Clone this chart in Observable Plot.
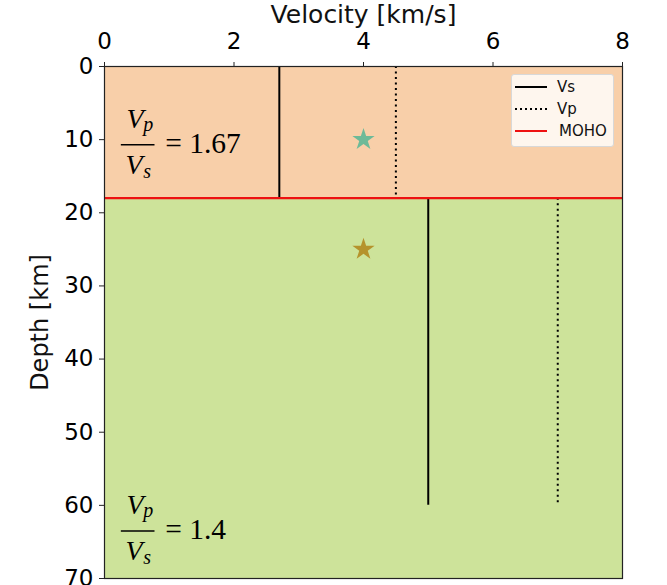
<!DOCTYPE html>
<html>
<head>
<meta charset="utf-8">
<script src="https://cdn.jsdelivr.net/npm/d3@7"></script>
<script src="https://cdn.jsdelivr.net/npm/@observablehq/plot@0.6"></script>
<style>
  html, body { margin: 0; padding: 0; background: #fff; }
  #wrap { position: relative; width: 667px; height: 585px; overflow: hidden; }
  #legend {
    position: absolute; left: 511px; top: 74px; width: 103px; height: 73px;
    background: rgba(255,255,255,0.8); border: 1px solid #d8d8d8; border-radius: 3px;
    font-family: "DejaVu Sans", sans-serif; font-size: 15px; color: #111; box-sizing: border-box;
  }
  #legend .row { position: absolute; left: 3px; height: 20px; display: flex; align-items: center; }
  #legend svg { margin-right: 10px; }
</style>
</head>
<body>
<div id="wrap"></div>
<script>
// Layers (depth ranges, km)
const layerNames = ["crust", "mantle"];
const layerTop = [0, 18];
const layerBottom = [18, 70];
const layerColors = ["#f8cfa9", "#cde39a"];

// Velocity profiles (km/s) per layer
const vsValues = [2.7, 5.0];
const vpValues = [4.5, 7.0];
const profileTop = [0, 18];
const profileBottom = [18, 60];

// Moho depth
const mohoDepth = [18];

// Stars (events)
const starX = [4, 4];
const starY = [10, 25];
const starColors = ["#6dba98", "#b5932c"];

// Vp/Vs annotations
const ratioLabels = ["1.67", "1.4"];
const ratioX = [0.52, 0.52];
const ratioY = [10.7, 63.5];

// Axis ticks
const xTicks = [0, 2, 4, 6, 8];
const yTicks = [0, 10, 20, 30, 40, 50, 60, 70];

const layers = layerNames.map((n, i) => ({n, y1: layerTop[i], y2: layerBottom[i], c: layerColors[i]}));
const profiles = vsValues.map((v, i) => ({vs: v, vp: vpValues[i], y1: profileTop[i], y2: profileBottom[i]}));
const stars = starX.map((x, i) => ({x, y: starY[i], c: starColors[i]}));
const ratios = ratioLabels.map((t, i) => ({t, x: ratioX[i], y: ratioY[i]}));

const serif = "'Liberation Serif', 'DejaVu Serif', serif";
const sans = "'DejaVu Sans', sans-serif";

const chart = Plot.plot({
  width: 667,
  height: 585,
  marginLeft: 104,
  marginRight: 45,
  marginTop: 66,
  marginBottom: 7,
  style: {fontFamily: sans, background: "white", overflow: "hidden"},
  x: {domain: [0, 8]},
  y: {domain: [0, 70], reverse: true},
  marks: [
    Plot.rect(layers, {x1: 0, x2: 8, y1: "y1", y2: "y2", fill: d => d.c}),
    Plot.ruleX(profiles, {x: "vs", y1: "y1", y2: "y2", stroke: "black", strokeWidth: 2}),
    Plot.ruleX(profiles, {x: "vp", y1: "y1", y2: "y2", stroke: "black", strokeWidth: 2, strokeDasharray: "2,3.5"}),
    Plot.ruleY(mohoDepth, {stroke: "#ee1111", strokeWidth: 2.2}),
    Plot.dot(stars, {x: "x", y: "y", symbol: "star", r: 7, fill: d => d.c, stroke: "none"}),
    // Vp/Vs fractions
    Plot.ruleY(ratios, {y: "y", x1: d => d.x - 0.26, x2: d => d.x + 0.26, stroke: "black", strokeWidth: 1.4}),
    Plot.text(ratios, {x: "x", y: "y", text: d => "V", dx: -3, dy: -26, fontFamily: serif, fontStyle: "italic", fontSize: 28}),
    Plot.text(ratios, {x: "x", y: "y", text: d => "p", dx: 10, dy: -20, fontFamily: serif, fontStyle: "italic", fontSize: 20}),
    Plot.text(ratios, {x: "x", y: "y", text: d => "V", dx: -4, dy: 20, fontFamily: serif, fontStyle: "italic", fontSize: 28}),
    Plot.text(ratios, {x: "x", y: "y", text: d => "s", dx: 9, dy: 27, fontFamily: serif, fontStyle: "italic", fontSize: 20}),
    Plot.text(ratios, {x: "x", y: "y", text: d => "= " + d.t, dx: 27, dy: -1, textAnchor: "start", fontFamily: serif, fontSize: 29.5}),
    Plot.frame({stroke: "#222", strokeWidth: 1.2}),
    Plot.axisX({anchor: "top", ticks: xTicks, tickSize: 5, tickPadding: 13, fontSize: 23, label: null, stroke: "#222"}),
    Plot.axisY({anchor: "left", ticks: yTicks, tickSize: 5, tickPadding: 6, fontSize: 23, label: null, stroke: "#222"}),
    Plot.text(["Velocity [km/s]"], {frameAnchor: "top", lineAnchor: "middle", textAnchor: "middle", dy: -52, fontSize: 25, fill: "#111"}),
    Plot.text(["Depth [km]"], {frameAnchor: "left", lineAnchor: "middle", textAnchor: "middle", dx: -64, rotate: -90, fontSize: 24, fill: "#111"})
  ]
});

const wrap = document.getElementById("wrap");
wrap.appendChild(chart);

const legend = document.createElement("div");
legend.id = "legend";
const items = [
  {label: "Vs", stroke: "black", dash: null},
  {label: "Vp", stroke: "black", dash: "2,3"},
  {label: "MOHO", stroke: "#ee1111", dash: null}
];
items.forEach((it, i) => {
  const row = document.createElement("div");
  row.className = "row";
  row.style.top = (2 + i * 22) + "px";
  row.innerHTML = `<svg width="32" height="6"><line x1="0" x2="32" y1="3" y2="3" stroke="${it.stroke}" stroke-width="2" ${it.dash ? `stroke-dasharray="${it.dash}"` : ""}/></svg><span${i === 2 ? ' style="margin-left:2px"' : ''}>${it.label}</span>`;
  legend.appendChild(row);
});
wrap.appendChild(legend);
</script>
</body>
</html>
